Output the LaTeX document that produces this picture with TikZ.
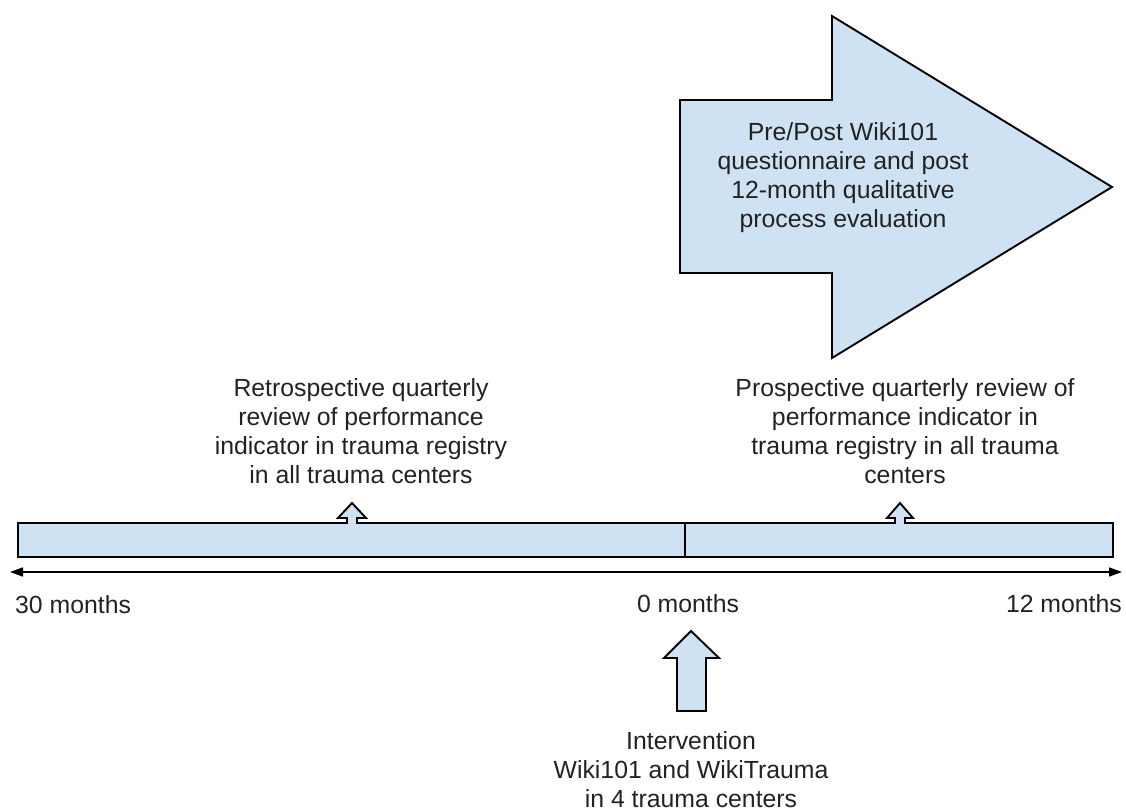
\documentclass[tikz,border=0pt]{standalone}
\usepackage{fontspec}
\setmainfont{Liberation Sans}
\usetikzlibrary{arrows.meta}
\definecolor{boxblue}{HTML}{CFE2F3}
\definecolor{txt}{HTML}{222222}
\begin{document}
\begin{tikzpicture}[x=1pt,y=-1pt,
  shapeline/.style={draw=black,fill=boxblue,line width=1.9pt,line join=miter},
  lbl/.style={inner sep=0pt,text=txt,align=center,anchor=base,
    font=\fontsize{24.8}{29}\selectfont},
  axis/.style={line width=1.6pt,{Triangle[length=13pt,width=9pt]}-{Triangle[length=13pt,width=9pt]}}]
\useasboundingbox (0,0) rectangle (1126,811);
% big arrow
\draw[shapeline] (680,100) -- (832,100) -- (832,16) -- (1112,187) -- (832,358) -- (832,273) -- (680,273) -- cycle;
\node[lbl] (eval) at (843,227) {Pre/Post Wiki101\\questionnaire and post\\12-month qualitative\\process evaluation};
% timeline bar with two small arrows
\draw[shapeline] (18,557) -- (18,523) -- (347,523) -- (347,518) -- (338,518) -- (352,503) -- (366,518) -- (357,518) -- (357,523)
  -- (895,523) -- (895,518) -- (887,518) -- (900,503) -- (913,518) -- (905,518) -- (905,523)
  -- (1113,523) -- (1113,557) -- cycle;
\draw[line width=1.9pt] (685,523) -- (685,557);
\node[lbl] (retro) at (361,483) {Retrospective quarterly\\review of performance\\indicator in trauma registry\\in all trauma centers};
\node[lbl] (prosp) at (905,483) {Prospective quarterly review of\\performance indicator in\\trauma registry in all trauma\\centers};
% axis
\coordinate (axL) at (10,572);
\coordinate (axR) at (1122,572);
\draw[axis] (axL) -- (axR);
\node[lbl,anchor=base west] (m30) at (15,613) {30 months};
\node[lbl] (m0) at (688,612) {0 months};
\node[lbl,anchor=base east] (m12) at (1122,612) {12 months};
% intervention arrow
\draw[shapeline] (691,631) -- (719,658) -- (706,658) -- (706,711) -- (677,711) -- (677,658) -- (664,658) -- cycle;
\node[lbl] (interv) at (691,807) {Intervention\\Wiki101 and WikiTrauma\\in 4 trauma centers};
\end{tikzpicture}
\end{document}
